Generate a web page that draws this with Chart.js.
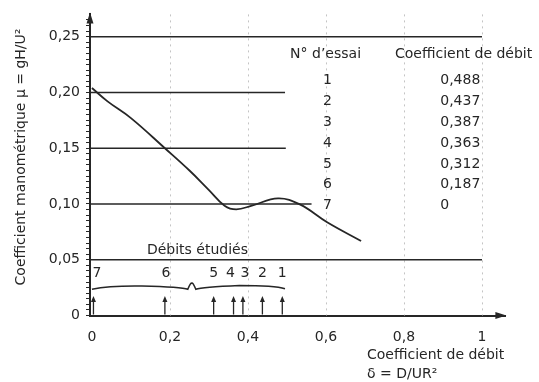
<!DOCTYPE html>
<html><head><meta charset="utf-8">
<script src="https://cdn.jsdelivr.net/npm/chart.js@4/dist/chart.umd.min.js"></script>
<style>html,body{margin:0;padding:0;background:#fff}canvas{display:block}</style>
</head><body>
<canvas id="c" width="539" height="382"></canvas>
<script>
// ---- data ----
const curveDelta = [0, 0.04, 0.10, 0.187, 0.25, 0.30, 0.34, 0.37, 0.41, 0.477, 0.533, 0.603, 0.69];
const curveMu    = [0.204, 0.192, 0.177, 0.150, 0.130, 0.1125, 0.0985, 0.0952, 0.0985, 0.105, 0.0996, 0.0836, 0.0668];
const refLevels = [0.25, 0.20, 0.15, 0.10, 0.05];
const refEnds   = [1.0, 0.495, 0.497, 0.563, 1.0];
const testNumbers = ['1', '2', '3', '4', '5', '6', '7'];
const testDelta = [0.488, 0.437, 0.387, 0.363, 0.312, 0.187, 0];
const testDeltaLabels = ['0,488', '0,437', '0,387', '0,363', '0,312', '0,187', '0'];
const xTickValues = [0, 0.2, 0.4, 0.6, 0.8, 1];
const xTickLabels = ['0', '0,2', '0,4', '0,6', '0,8', '1'];
const yTickValues = [0, 0.05, 0.10, 0.15, 0.20, 0.25];
const yTickLabels = ['0', '0,05', '0,10', '0,15', '0,20', '0,25'];
const xGridValues = [0.2, 0.4, 0.6, 0.8, 1];
const braceRange = [0, 0.5];
const braceTip = 0.256;
// small horizontal nudges (px) so the run numbers do not collide
const numberNudge = [0, 0, 2, -3, 0, 1, 5];

const X_MIN = -0.005, X_MAX = 1.06, Y_MIN = 0, Y_MAX = 0.27;
const INK = '#262626';
const FONT = '14px "DejaVu Sans"';

Chart.defaults.font.family = '"DejaVu Sans"';
Chart.defaults.font.size = 14;
Chart.defaults.color = INK;

const datasets = [{
  data: curveDelta.map((d, i) => ({x: d, y: curveMu[i]})),
  borderColor: INK, borderWidth: 1.8, pointRadius: 0,
  tension: 0.4, fill: false
}];
refLevels.forEach((lv, i) => {
  datasets.push({
    data: [{x: X_MIN, y: lv}, {x: refEnds[i], y: lv}],
    borderColor: INK, borderWidth: 1.6, pointRadius: 0, fill: false, tension: 0
  });
});

const decor = {
  id: 'decor',
  beforeDatasetsDraw(chart) {
    const {ctx, scales: {x: xs, y: ys}} = chart;
    ctx.save();
    ctx.strokeStyle = '#c4c4c4';
    ctx.lineWidth = 1;
    ctx.setLineDash([2, 4]);
    xGridValues.forEach(v => {
      const px = Math.round(xs.getPixelForValue(v)) + 0.5;
      ctx.beginPath();
      ctx.moveTo(px, ys.getPixelForValue(Y_MAX));
      ctx.lineTo(px, ys.getPixelForValue(0));
      ctx.stroke();
    });
    ctx.restore();
  },
  afterDatasetsDraw(chart) {
    const {ctx, chartArea: ca, scales: {x: xs, y: ys}} = chart;
    ctx.save();
    ctx.fillStyle = INK;
    ctx.strokeStyle = INK;
    // axis arrows
    const ax = xs.getPixelForValue(X_MIN), ay0 = ys.getPixelForValue(0);
    ctx.beginPath();
    ctx.moveTo(ax, ca.top - 2); ctx.lineTo(ax - 3.5, ca.top + 9); ctx.lineTo(ax + 3.5, ca.top + 9); ctx.closePath(); ctx.fill();
    ctx.beginPath();
    ctx.moveTo(ca.right + 1, ay0); ctx.lineTo(ca.right - 10, ay0 - 3.5); ctx.lineTo(ca.right - 10, ay0 + 3.5); ctx.closePath(); ctx.fill();

    // tested flow arrows
    const tipY = ys.getPixelForValue(0.0175);
    ctx.lineWidth = 1.3;
    testDelta.forEach(d => {
      const px = xs.getPixelForValue(d) + (d === 0 ? 1.5 : 0);
      ctx.beginPath(); ctx.moveTo(px, ay0 - 1); ctx.lineTo(px, tipY + 5); ctx.stroke();
      ctx.beginPath(); ctx.moveTo(px, tipY); ctx.lineTo(px - 2.5, tipY + 6); ctx.lineTo(px + 2.5, tipY + 6); ctx.closePath(); ctx.fill();
    });
    // numbers above
    ctx.font = FONT; ctx.textAlign = 'center'; ctx.textBaseline = 'middle';
    const numY = ys.getPixelForValue(0.038);
    testNumbers.forEach((n, i) => {
      ctx.fillText(n, xs.getPixelForValue(testDelta[i]) + numberNudge[i], numY);
    });
    // brace
    const bx0 = xs.getPixelForValue(braceRange[0]), bx1 = xs.getPixelForValue(braceRange[1]);
    const bt = xs.getPixelForValue(braceTip);
    const yb = ys.getPixelForValue(0.0255), ye = ys.getPixelForValue(0.0235), yt = ys.getPixelForValue(0.029);
    ctx.lineWidth = 1.5;
    ctx.beginPath();
    ctx.moveTo(bx0, ye);
    ctx.quadraticCurveTo(bx0 + 18, yb - 1.5, (bx0 + bt) / 2, yb - 1);
    ctx.quadraticCurveTo(bt - 10, yb, bt - 4, ye);
    ctx.quadraticCurveTo(bt - 1, yt - 1, bt, yt);
    ctx.quadraticCurveTo(bt + 1, yt - 1, bt + 4, ye);
    ctx.quadraticCurveTo(bt + 10, yb, (bt + bx1) / 2, yb - 1.5);
    ctx.quadraticCurveTo(bx1 - 12, yb - 1.5, bx1 - 2, ye - 0.5);
    ctx.stroke();
    // "Débits étudiés"
    ctx.textAlign = 'left';
    ctx.fillText('Débits étudiés', xs.getPixelForValue(0.141), ys.getPixelForValue(0.0585));

    // table
    const colN = xs.getPixelForValue(0.604), colV = xs.getPixelForValue(0.893);
    const headY = ys.getPixelForValue(0.2345);
    ctx.textAlign = 'left';
    ctx.fillText('N° d\u2019essai', xs.getPixelForValue(0.508), headY);
    ctx.fillText('Coefficient de débit', xs.getPixelForValue(0.777), headY);
    const row0 = ys.getPixelForValue(0.2105), rowStep = 20.8;
    testNumbers.forEach((n, i) => {
      const ry = row0 + i * rowStep;
      ctx.textAlign = 'center';
      ctx.fillText(n, colN, ry);
      ctx.textAlign = 'left';
      ctx.fillText(testDeltaLabels[i], colV, ry);
    });

    // axis titles
    ctx.textAlign = 'left';
    ctx.fillText('Coefficient de débit', 367, 355);
    ctx.fillText('\u03B4 = D/UR\u00B2', 367, 374);
    ctx.save();
    ctx.translate(21, 157);
    ctx.rotate(-Math.PI / 2);
    ctx.textAlign = 'center';
    ctx.fillText('Coefficient manométrique \u03BC = gH/U\u00B2', 0, 0);
    ctx.restore();
    ctx.restore();
  }
};

new Chart(document.getElementById('c'), {
  type: 'line',
  data: {datasets},
  plugins: [decor],
  options: {
    responsive: false, animation: false, devicePixelRatio: 1,
    layout: {padding: {left: 0, right: 33.6, top: 13.6, bottom: 0}},
    plugins: {legend: {display: false}, tooltip: {enabled: false}},
    scales: {
      x: {
        type: 'linear', min: X_MIN, max: X_MAX,
        afterBuildTicks: s => { s.ticks = xTickValues.map(v => ({value: v})); },
        afterFit: s => { s.height = 66.5; },
        ticks: {autoSkip: false, maxRotation: 0, padding: 13, callback: (v, i) => xTickLabels[i]},
        grid: {display: false, drawTicks: false},
        border: {display: true, color: INK, width: 2}
      },
      y: {
        type: 'linear', min: Y_MIN, max: Y_MAX,
        afterBuildTicks: s => {
          const t = [];
          for (let k = 0; k <= 53; k++) t.push({value: Math.round(k * 5) / 1000});
          s.ticks = t;
        },
        afterFit: s => { s.width = 90; },
        ticks: {autoSkip: false, padding: 6, callback: v => {
          const i = yTickValues.findIndex(w => Math.abs(w - v) < 1e-6);
          return i >= 0 ? yTickLabels[i] : '';
        }},
        grid: {display: true, drawOnChartArea: false, drawTicks: true, tickLength: 4, color: INK, lineWidth: 1},
        border: {display: true, color: INK, width: 2}
      }
    }
  }
});
</script>
</body></html>
